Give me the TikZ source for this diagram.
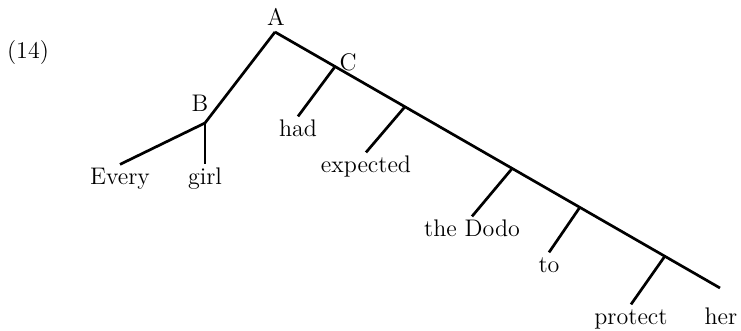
\documentclass[tikz,border=0pt]{standalone}
\usetikzlibrary{calc}
\begin{document}
\begin{tikzpicture}[x=0.5pt,y=-0.5pt,
  branch/.style={line width=1.35pt},
  word/.style={anchor=base,font=\fontsize{12}{14}\selectfont,text height=7.6pt,inner xsep=0pt,inner ysep=2.5pt},
  cat/.style={anchor=base,font=\fontsize{12}{14}\selectfont,inner sep=0pt}]
  \useasboundingbox (0,0) rectangle (741,331);
  \node[cat] (num) at (28,59) {(14)};
  \coordinate (a) at (275,32);
  \coordinate (b) at (205,123);
  \coordinate (h) at (720,288);
  \coordinate (c) at ($(a)!0.135!(h)$);
  \coordinate (e) at ($(a)!0.292!(h)$);
  \coordinate (d) at ($(a)!0.533!(h)$);
  \coordinate (t) at ($(a)!0.685!(h)$);
  \coordinate (p) at ($(a)!0.876!(h)$);
  \node[cat] (lA) at (276,26) {A};
  \node[cat] (lB) at (200,112) {B};
  \node[cat] (lC) at (348,71) {C};
  \node[word] (every) at (120,185) {Every};
  \node[word] (girl) at (205,185) {girl};
  \node[word] (had) at (298,137) {had};
  \node[word] (expected) at (366,173) {expected};
  \node[word] (dodo) at (472,237) {the Dodo};
  \node[word] (to) at (549,273) {to};
  \node[word] (protect) at (631,325) {protect};
  \node[word] (her) at (721,325) {her};
  \draw[branch] (a) -- (h);
  \draw[branch] (a) -- (b);
  \draw[branch] (b) -- (every.north);
  \draw[branch] (b) -- (girl.north);
  \draw[branch] (c) -- (had.north);
  \draw[branch] (e) -- (expected.north);
  \draw[branch] (d) -- (dodo.north);
  \draw[branch] (t) -- (to.north);
  \draw[branch] (p) -- (protect.north);
\end{tikzpicture}
\end{document}
